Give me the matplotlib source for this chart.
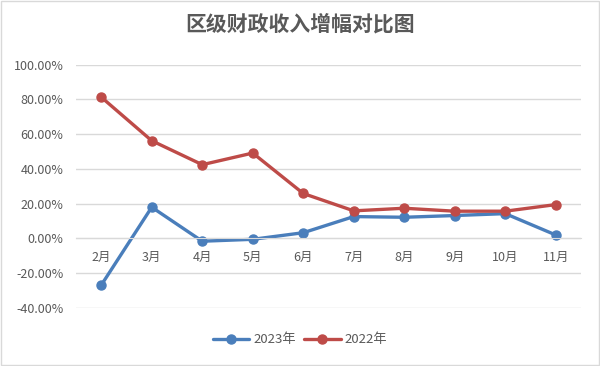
import matplotlib.pyplot as plt
import matplotlib.ticker as mticker
from matplotlib.patches import Rectangle

plt.rcParams['font.family'] = ['Noto Sans CJK SC', 'DejaVu Sans']

# 月份与两年增幅（%）
months = ['2月', '3月', '4月', '5月', '6月', '7月', '8月', '9月', '10月', '11月']
growth_2023 = [-27.0, 17.9, -1.7, -0.6, 3.2, 12.5, 12.1, 13.1, 14.2, 1.9]
growth_2022 = [81.3, 56.2, 42.4, 49.1, 25.8, 15.8, 17.3, 15.6, 15.6, 19.4]

blue = '#4A7EBB'
red = '#BE4B48'
grey = '#595959'

fig = plt.figure(figsize=(6, 3.66), dpi=100)
ax = fig.add_axes([76 / 600, 1 - 307.7 / 366, 505 / 600, 243 / 366])

x = range(len(months))
ax.plot(x, growth_2023, color=blue, lw=2.4, marker='o', ms=6.5, label='2023年', solid_capstyle='round')
ax.plot(x, growth_2022, color=red, lw=2.4, marker='o', ms=6.5, label='2022年', solid_capstyle='round')

ax.set_xlim(-0.5, len(months) - 0.5)
ax.set_ylim(-40, 100)
ax.set_yticks(range(-40, 101, 20))
ax.yaxis.set_major_formatter(mticker.FuncFormatter(lambda v, p: f'{v:.2f}%'))
ax.set_xticks(list(x))
ax.set_xticklabels(months)

ax.grid(axis='y', color='#D9D9D9', lw=1)
ax.set_axisbelow(True)
for s in ['top', 'right', 'left']:
    ax.spines[s].set_visible(False)
ax.spines['bottom'].set_position(('data', 0))
ax.spines['bottom'].set_color('#D9D9D9')
ax.tick_params(axis='both', length=0, labelsize=9, colors=grey)
ax.tick_params(axis='x', pad=9)
ax.tick_params(axis='y', pad=9)

fig.text(0.5, 1 - 24 / 366, '区级财政收入增幅对比图', ha='center', va='center',
         fontsize=15, fontweight='bold', color=grey)

leg = fig.legend(loc='center', bbox_to_anchor=(0.5, 1 - 340 / 366), ncol=2, frameon=False,
                 fontsize=9.5, handlelength=2.8, columnspacing=0.6, handletextpad=0.3)
for t in leg.get_texts():
    t.set_color(grey)

fig.patches.append(Rectangle((0.001, 0.002), 0.997, 0.995, transform=fig.transFigure,
                             fill=False, edgecolor='#D9D9D9', lw=1))

fig.savefig('out.png', dpi=100)
